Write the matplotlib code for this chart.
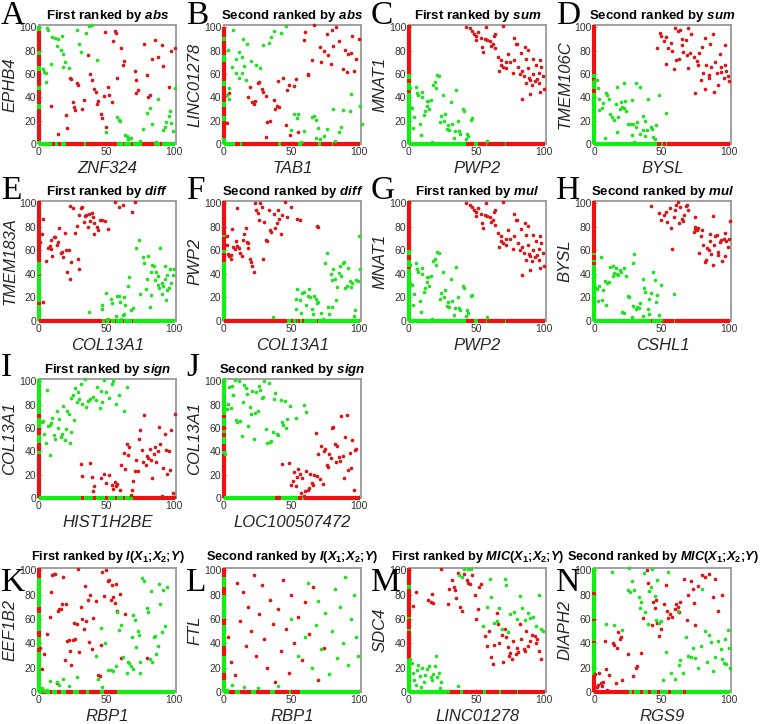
import matplotlib
matplotlib.use("Agg")
import matplotlib.pyplot as plt

plt.rcParams["font.family"] = ["Liberation Sans", "DejaVu Sans"]
plt.rcParams["mathtext.fontset"] = "custom"
plt.rcParams["mathtext.rm"] = "Liberation Sans:bold"
plt.rcParams["mathtext.it"] = "Liberation Sans:bold:italic"
plt.rcParams["mathtext.bf"] = "Liberation Sans:bold"

# ---- data: scatter points (x, y), and zero-value marks along the axes (lo, hi) ----
a_red = [(9,33),(14,9),(20,25),(21,14),(23,57),(24,56),(25,36),(26,32),(27,29),(28,52),(29,51),(33,38),(32,30),
         (36,76),(38,60),(39,55),(41,47),(42,45),(44,37),(43,34),(46,26),(47,22),(49,96),(48,41),(50,15),(51,49),
         (52,42),(54,36),(55,88),(56,97),(57,95),(58,57),(61,82),(62,68),(63,71),(71,63),(72,55),(72,44),(73,46),
         (78,86),(80,59),(81,40),(82,42),(84,73),(86,89),(88,75),(91,85),(92,67),(96,49),(98,80),(101,82)]
a_green = [(6,99),(7,98),(10,92),(12,91),(14,90),(17,93),(13,84),(16,81),(18,77),(9,69),(19,70),(18,66),(22,65),
           (28,98),(30,86),(31,79),(35,95),(37,101),(39,102),(43,72),(3,64),(4,62),(5,61),(5,53),(58,23),(59,21),
           (60,20),(50,10),(64,8),(65,7),(67,5),(68,5),(66,4),(75,3),(77,13),(80,27),(82,31),(84,17),(87,2),(88,39),
           (92,12),(93,15),(94,19),(96,24),(97,28),(99,11),(98,18),(101,48),(86,1)]
a_left_red = [(3,30),(34,46),(50,63),(67,76),(80,97)]
a_left_green = [(0,3),(30,34),(46,50),(63,67),(76,80),(97,101)]
a_bot_red = [(10,12),(14,16),(20,33),(35,58),(62,63),(68,70),(76,86),(90,91)]
a_bot_green = [(0,10),(12,14),(16,20),(33,35),(58,62),(63,68),(70,76),(86,90),(91,101)]

b_red = [(2,18),(4,44),(18,40),(19,49),(21,36),(22,34),(23,37),(25,52),(26,53),(28,47),(29,45),(31,41),(32,19),
         (31,6),(34,20),(37,38),(38,30),(39,33),(40,54),(41,32),(44,57),(46,16),(47,46),(48,51),(49,8),(52,50),
         (53,56),(55,10),(59,89),(60,96),(62,59),(62,60),(65,72),(67,102),(71,83),(72,70),(74,80),(76,94),(77,76),
         (79,69),(80,98),(81,84),(83,100),(85,88),(88,64),(90,81),(91,62),(92,77),(94,78),(95,93),(96,63),(98,73),
         (100,90)]
b_green = [(7,98),(3,81),(14,90),(17,86),(11,79),(13,75),(9,73),(15,67),(13,61),(9,61),(11,57),(16,55),(20,71),
           (24,68),(27,65),(29,85),(33,87),(35,92),(37,97),(42,95),(46,101),(6,66),(4,48),(4,39),(2,42),(50,12),
           (52,26),(54,22),(55,26),(57,2),(56,1),(59,11),(65,23),(67,24),(68,21),(68,5),(70,14),(71,4),(74,7),
           (76,13),(81,30),(82,3),(85,10),(87,15),(88,29),(93,28),(94,43),(101,33),(102,17)]
b_left_red = [(5,20),(24,32),(36,50),(54,70),(76,88),(92,100)]
b_left_green = [(0,5),(20,24),(32,36),(50,54),(70,76),(88,92)]
b_bot_red = [(8,12),(13,40),(42,55),(58,70),(72,80),(81,101)]
b_bot_green = [(0,8),(12,13),(40,42),(55,58),(70,72),(80,81)]

c_red = [(42,100),(45,99),(47,97),(48,94),(50,93),(50,89),(51,96),(53,91),(54,83),(55,79),(56,90),(57,100),
         (58,89),(60,88),(61,84),(62,86),(63,93),(64,94),(64,82),(66,75),(67,63),(68,72),(68,68),(70,66),(70,101),
         (72,70),(72,65),(73,77),(75,70),(77,61),(78,91),(78,72),(79,86),(80,86),(81,66),(82,60),(83,78),(84,63),
         (84,39),(85,58),(86,83),(87,73),(87,52),(88,81),(88,65),(89,57),(90,55),(90,43),(91,51),(92,73),(92,60),
         (93,54),(94,68),(95,56),(96,61),(97,72),(97,45),(98,66),(99,58),(100,47),(96,52)]
c_green = [(1,48),(1,32),(2,31),(3,14),(4,23),(5,49),(6,44),(7,42),(8,17),(9,8),(10,45),(10,40),(11,25),(12,28),
           (13,33),(13,37),(14,37),(15,30),(16,38),(17,2),(18,51),(19,53),(20,48),(21,59),(22,58),(23,19),(24,24),
           (25,42),(26,20),(27,26),(28,13),(29,16),(30,12),(31,36),(32,17),(33,5),(34,11),(35,46),(36,20),(37,11),
           (38,9),(40,30),(41,28),(42,4),(43,9),(44,7),(46,21),(47,22),(58,3)]
c_left_red = [(44,46),(52,56),(60,102)]
c_left_green = [(0,44),(46,52),(56,60)]
c_bot_red = [(42,48),(51,57),(58,71),(72,101)]
c_bot_green = [(0,42),(48,51),(57,58),(71,72)]

d_red = [(47,82),(49,95),(50,93),(52,88),(53,92),(53,69),(55,82),(57,87),(58,80),(59,64),(60,99),(61,72),(62,97),
         (63,73),(64,98),(65,85),(65,90),(66,79),(68,89),(69,76),(70,99),(70,65),(71,78),(72,94),(74,75),(75,44),
         (76,71),(77,68),(78,78),(79,55),(80,83),(81,61),(82,91),(82,47),(83,68),(85,59),(85,57),(86,86),(87,66),
         (88,94),(89,45),(90,70),(91,61),(92,51),(93,77),(94,66),(94,62),(96,57),(97,85),(97,68),(98,63),(99,58),
         (100,54)]
d_green = [(1,55),(2,55),(3,48),(4,39),(4,29),(6,31),(7,35),(8,5),(9,44),(10,42),(11,39),(12,26),(13,23),(15,21),
           (16,34),(17,49),(17,10),(18,23),(19,30),(20,36),(21,32),(22,52),(22,31),(23,37),(24,28),(25,17),(27,17),
           (28,38),(28,8),(29,17),(30,2),(31,52),(31,15),(32,19),(34,49),(34,9),(36,24),(36,12),(38,7),(38,20),
           (39,12),(40,39),(42,15),(43,13),(44,6),(45,4),(46,16),(48,42),(53,27)]
d_left_red = [(44,47),(54,57),(60,102)]
d_left_green = [(0,44),(47,54),(57,60)]
d_bot_red = [(47,50),(51,53),(54,101)]
d_bot_green = [(0,47),(50,51),(53,54)]

e_red = [(3,87),(2,74),(1,67),(3,16),(5,51),(7,62),(8,64),(9,69),(9,61),(10,55),(11,71),(12,71),(13,65),(14,67),
         (15,79),(16,58),(17,59),(18,54),(19,75),(20,60),(21,42),(22,60),(23,36),(23,98),(24,50),(25,96),(27,75),
         (28,81),(29,53),(30,44),(30,90),(31,96),(32,97),(33,84),(34,89),(35,90),(36,80),(37,91),(38,85),(39,92),
         (40,88),(41,83),(41,74),(43,80),(44,77),(45,86),(47,86),(49,85),(51,78),(56,101),(59,97),(62,99),(69,93),
         (71,101)]
e_green = [(37,8),(47,10),(47,14),(50,24),(51,2),(53,19),(54,15),(55,1),(57,4),(58,21),(59,21),(60,16),(61,2),
           (62,5),(63,6),(63,20),(64,14),(65,1),(66,30),(67,37),(68,9),(70,11),(72,62),(74,69),(75,23),(77,54),
           (78,49),(79,27),(80,36),(81,55),(82,12),(83,22),(84,48),(85,47),(86,35),(87,42),(88,31),(88,38),(89,28),
           (90,62),(91,32),(91,23),(92,30),(93,36),(93,47),(94,18),(95,26),(95,39),(96,28),(97,44),(98,32),(99,39),
           (100,44),(83,42)]
e_left_red = [(14,16),(38,39),(50,102)]
e_left_green = [(0,14),(16,38),(39,50)]
e_bot_red = [(0,47),(49,50),(52,53),(56,57),(62,63),(69,70)]
e_bot_green = [(47,49),(50,52),(53,56),(57,62),(63,69),(70,101)]

f_red = [(2,72),(2,65),(3,57),(4,55),(5,53),(5,56),(6,78),(7,63),(8,61),(9,68),(10,96),(10,64),(11,62),(12,58),
         (13,55),(14,69),(15,74),(16,79),(17,67),(18,62),(18,66),(19,53),(20,50),(21,47),(22,42),(23,100),(24,94),
         (25,92),(26,86),(27,100),(28,97),(29,53),(30,84),(31,69),(32,68),(33,94),(34,77),(35,76),(37,91),(38,79),
         (39,83),(40,94),(41,87),(42,74),(43,90),(45,101),(47,88),(50,97),(54,87),(56,86),(69,81),(70,80)]
f_green = [(36,3),(53,19),(53,10),(54,27),(56,18),(57,7),(58,24),(59,25),(61,14),(62,21),(63,27),(64,20),(65,10),
           (66,6),(67,21),(68,19),(69,15),(70,16),(72,7),(73,2),(74,1),(75,49),(76,58),(77,12),(78,6),(79,40),
           (80,35),(80,12),(81,44),(82,36),(83,18),(84,29),(85,41),(86,47),(87,38),(88,49),(89,50),(90,28),(91,30),
           (92,45),(93,34),(94,29),(95,32),(96,4),(97,9),(98,35),(99,34),(100,72),(101,44)]
f_left_red = [(50,58),(60,71),(73,102)]
f_left_green = [(0,50),(58,60),(71,73)]
f_bot_red = [(0,47),(50,51),(53,54),(55,56),(58,59),(69,70)]
f_bot_green = [(47,50),(51,53),(54,55),(56,58),(59,69),(70,101)]

# G repeats the MNAT1 / PWP2 pair of panel C
g_red = c_red
g_green = c_green
g_left_red = c_left_red
g_left_green = c_left_green
g_bot_red = c_bot_red
g_bot_green = c_bot_green

h_red = [(42,98),(48,92),(50,86),(52,90),(53,93),(54,84),(56,96),(57,79),(58,61),(59,88),(60,94),(61,99),(62,101),
         (63,83),(64,97),(65,87),(66,85),(67,90),(68,98),(69,99),(70,94),(74,76),(75,78),(75,80),(75,88),(77,79),
         (78,58),(79,72),(80,77),(81,65),(82,50),(83,52),(84,62),(85,60),(86,68),(86,74),(87,57),(88,89),(88,48),
         (89,65),(90,72),(91,73),(92,59),(92,56),(93,67),(94,69),(95,51),(96,70),(97,75),(97,55),(98,68),(99,63),
         (101,85),(100,70),(76,77)]
h_green = [(1,29),(2,27),(3,17),(4,30),(5,54),(6,18),(7,26),(8,34),(9,14),(10,32),(11,33),(12,46),(13,1),(14,47),
           (14,38),(15,41),(16,45),(17,40),(18,39),(19,43),(20,42),(21,8),(22,7),(22,45),(24,38),(25,21),(26,20),
           (28,3),(29,13),(29,49),(30,57),(31,10),(32,12),(33,11),(34,15),(36,4),(36,36),(37,28),(38,25),(40,10),
           (41,6),(41,19),(42,24),(44,42),(45,35),(46,16),(47,22),(48,5),(50,1),(50,31),(59,23)]
h_left_red = [(48,50),(52,56),(58,102)]
h_left_green = [(0,48),(50,52),(56,58)]
h_bot_red = [(42,43),(50,59),(60,101)]
h_bot_green = [(0,42),(43,50),(59,60)]

i_red = [(31,29),(32,19),(38,30),(39,18),(40,6),(41,10),(46,17),(48,21),(50,13),(52,20),(54,11),(55,8),(56,14),
         (57,10),(58,12),(60,7),(61,28),(63,39),(64,25),(65,46),(66,37),(67,44),(68,3),(69,7),(70,15),(71,23),
         (72,33),(73,23),(74,51),(75,58),(76,41),(77,31),(78,71),(79,28),(80,36),(81,34),(82,42),(83,33),(84,17),
         (85,38),(86,44),(87,31),(88,40),(89,61),(90,46),(91,2),(92,26),(93,55),(94,41),(95,21),(96,40),(97,24),
         (98,58),(99,4),(101,72),(100,1)]
i_green = [(2,65),(3,66),(4,55),(5,47),(6,93),(7,62),(8,37),(8,63),(9,64),(10,69),(11,54),(12,51),(13,75),(14,60),
           (15,68),(16,52),(17,55),(18,79),(19,50),(20,59),(21,75),(22,72),(23,47),(24,57),(24,86),(25,88),(26,67),
           (27,94),(28,82),(29,91),(30,85),(31,98),(32,81),(34,102),(35,78),(36,83),(38,85),(40,87),(42,84),(43,95),
           (45,77),(46,92),(47,82),(48,101),(50,91),(52,86),(54,98),(55,100),(57,81),(59,88),(63,75),(65,95)]
i_left_red = [(0,38),(40,47),(54,60),(69,72)]
i_left_green = [(38,40),(47,54),(60,69),(72,102)]
i_bot_red = [(31,33),(40,42),(49,51),(56,58),(62,64),(70,101)]
i_bot_green = [(0,31),(33,40),(42,49),(51,56),(58,62),(64,70)]

j_red = [(40,1),(43,29),(48,30),(50,11),(51,15),(52,22),(53,10),(54,18),(55,25),(56,21),(57,4),(58,17),(59,2),
         (60,6),(61,23),(62,7),(63,9),(64,21),(65,13),(66,11),(67,20),(68,56),(69,19),(70,38),(71,16),(72,45),
         (73,12),(74,40),(75,42),(76,28),(77,27),(78,38),(79,34),(80,60),(81,61),(82,46),(83,31),(84,45),(85,35),
         (86,32),(87,70),(88,36),(89,17),(90,52),(91,71),(92,24),(93,39),(94,26),(95,50),(96,7),(97,41),(98,42)]
j_green = [(1,38),(2,76),(3,81),(4,95),(5,77),(6,96),(7,88),(8,101),(9,67),(10,65),(11,100),(12,66),(13,53),
           (14,82),(15,97),(16,94),(17,89),(18,62),(19,78),(20,72),(21,92),(22,51),(23,73),(24,91),(25,75),(26,96),
           (27,93),(28,86),(29,87),(30,100),(31,59),(32,47),(33,99),(34,48),(35,49),(36,57),(37,85),(38,90),(39,55),
           (40,54),(42,84),(43,65),(44,63),(45,83),(46,60),(47,68),(49,79),(53,69),(59,80),(61,74)]
j_left_red = [(0,38),(40,46),(52,56),(58,62),(69,71)]
j_left_green = [(38,40),(46,52),(56,58),(62,69),(71,102)]
j_bot_red = [(38,42),(55,58),(59,101)]
j_bot_green = [(0,38),(42,55),(58,59)]

k_red = [(1,36),(2,19),(4,31),(6,48),(8,62),(9,82),(10,96),(11,97),(12,97),(13,7),(14,67),(15,68),(16,68),
         (17,72),(18,95),(19,26),(20,72),(21,42),(22,43),(23,34),(24,22),(25,43),(26,57),(27,44),(28,56),(29,101),
         (30,33),(31,70),(32,60),(33,52),(34,87),(35,58),(36,76),(37,41),(38,80),(39,35),(40,61),(42,75),(44,14),
         (45,13),(46,39),(47,99),(48,79),(50,100),(51,91),(52,92),(53,76),(54,88),(55,78),(56,73),(57,89),(58,67),
         (60,81),(61,28),(64,64),(80,28)]
k_green = [(2,3),(3,2),(4,1),(6,2),(8,9),(13,8),(15,6),(18,11),(22,5),(28,12),(42,30),(44,11),(46,53),(47,4),
           (49,40),(51,18),(53,18),(55,17),(57,21),(58,66),(59,51),(61,55),(62,29),(65,16),(66,25),(67,24),(68,21),
           (69,45),(70,63),(71,59),(72,37),(73,50),(74,47),(75,16),(76,94),(78,91),(80,69),(81,66),(82,27),(83,83),
           (84,25),(85,45),(86,46),(87,31),(88,38),(89,89),(90,72),(91,49),(92,84),(93,54),(95,86),(75,25),(70,19)]
k_left_red = [(33,36),(45,50),(65,70),(94,102)]
k_left_green = [(0,33),(36,45),(50,65),(70,94)]
k_bot_red = [(2,5),(8,10),(13,16),(20,25),(30,35),(37,45),(48,58)]
k_bot_green = [(0,2),(5,8),(10,13),(16,20),(25,30),(35,37),(45,48),(58,101)]

l_red = [(3,45),(5,25),(8,14),(10,90),(12,58),(14,82),(16,38),(18,70),(20,50),(22,96),(24,30),(26,64),(28,88),
         (30,44),(32,20),(34,76),(36,56),(38,8),(40,68),(42,34),(44,92),(46,52),(48,16),(50,80),(52,40),(55,62),
         (58,26),(60,74),(63,48),(66,86),(70,10),(74,36)]
l_green = [(2,2),(6,6),(15,4),(25,3),(40,5),(50,60),(55,30),(60,45),(62,90),(65,20),(68,55),(70,75),(72,35),
           (75,65),(78,15),(80,50),(82,85),(84,28),(86,70),(88,40),(90,95),(92,22),(94,60),(96,80),(98,45),(99,30)]
l_left_red = [(10,16),(30,38),(55,60),(80,86),(95,102)]
l_left_green = [(0,10),(16,30),(38,55),(60,80),(86,95)]
l_bot_red = [(4,8),(12,20),(24,34),(38,48),(50,56)]
l_bot_green = [(0,4),(8,12),(20,24),(34,38),(48,50),(56,101)]

m_red = [(3,71),(5,82),(14,76),(16,74),(17,81),(18,73),(24,101),(29,72),(30,85),(32,92),(33,86),(34,84),(35,77),
         (36,98),(38,70),(39,67),(41,97),(43,92),(44,90),(45,89),(47,96),(49,80),(50,60),(51,68),(52,86),(53,89),
         (56,46),(58,38),(59,50),(61,29),(62,23),(63,39),(65,65),(66,56),(67,40),(69,47),(70,25),(71,52),(72,45),
         (73,37),(74,30),(75,32),(76,27),(77,42),(79,31),(80,36),(81,33),(82,56),(83,44),(85,35),(86,34),(87,50),
         (88,38),(90,42),(91,47),(93,46),(94,40),(95,44),(98,27),(96,34)]
m_green = [(1,27),(2,24),(3,16),(4,10),(5,6),(6,18),(7,22),(8,13),(9,4),(10,20),(11,8),(12,14),(13,19),(15,21),
           (16,12),(17,10),(18,15),(19,21),(20,30),(21,12),(22,16),(23,3),(24,8),(26,1),(29,1),(36,5),(37,96),
           (39,95),(41,101),(44,101),(46,101),(55,54),(58,70),(60,93),(61,78),(63,57),(65,58),(67,69),(69,52),
           (71,93),(72,88),(73,49),(75,64),(78,66),(80,60),(82,79),(84,69),(86,59),(88,65),(90,61),(92,62),(94,54),
           (96,80),(98,52),(99,50)]
m_left_red = [(27,50),(52,60),(62,85),(88,102)]
m_left_green = [(0,27),(50,52),(60,62),(85,88)]
m_bot_red = [(28,38),(40,55),(57,67),(68,80),(81,101)]
m_bot_green = [(0,28),(38,40),(55,57),(67,68),(80,81)]

n_red = [(1,15),(2,4),(3,6),(4,16),(5,7),(6,5),(7,8),(8,42),(9,19),(10,2),(11,14),(14,40),(15,39),(16,7),(17,36),
         (18,49),(19,44),(20,45),(21,10),(25,31),(29,13),(31,20),(32,21),(35,32),(36,61),(39,100),(40,90),(43,55),
         (44,74),(45,69),(46,76),(47,57),(48,46),(50,52),(52,72),(53,88),(54,67),(55,61),(56,64),(58,62),(60,68),
         (61,72),(62,70),(63,66),(64,74),(67,93),(69,59),(70,80),(72,91),(73,85),(74,73),(75,55),(77,87),(80,96),
         (82,95),(85,97),(88,78),(90,93),(92,67),(95,80)]
n_green = [(9,56),(13,99),(15,55),(21,51),(25,84),(26,102),(27,82),(28,91),(30,84),(33,78),(34,69),(35,74),(37,98),
           (38,66),(40,56),(41,83),(42,86),(43,101),(45,79),(46,59),(47,92),(48,57),(50,58),(51,10),(53,33),(55,99),
           (57,16),(60,11),(62,67),(63,22),(64,26),(66,16),(68,45),(70,30),(72,29),(73,36),(75,28),(77,20),(79,38),
           (80,85),(82,50),(84,25),(85,47),(87,41),(88,17),(90,29),(92,42),(94,35),(95,27),(96,24),(97,44),(98,23),
           (99,51),(100,36),(101,20)]
n_left_red = [(0,14),(40,42),(58,60),(80,82)]
n_left_green = [(14,40),(42,58),(60,80),(82,102)]
n_bot_red = [(0,26),(28,30),(34,36),(40,42),(47,49),(55,57),(66,68)]
n_bot_green = [(26,28),(30,34),(36,40),(42,47),(49,55),(57,66),(68,101)]

titles = [r"First ranked by $abs$", r"Second ranked by $abs$", r"First ranked by $sum$", r"Second ranked by $sum$",
          r"First ranked by $diff$", r"Second ranked by $diff$", r"First ranked by $mul$", r"Second ranked by $mul$",
          r"First ranked by $sign$", r"Second ranked by $sign$",
          r"First ranked by $I(X_1;\!X_2;\!Y)$", r"Second ranked by $I(X_1;\!X_2;\!Y)$",
          r"First ranked by $MIC(X_1;\!X_2;\!Y)$", r"Second ranked by $MIC(X_1;\!X_2;\!Y)$"]
xlabels = ["ZNF324", "TAB1", "PWP2", "BYSL", "COL13A1", "COL13A1", "PWP2", "CSHL1",
           "HIST1H2BE", "LOC100507472", "RBP1", "RBP1", "LINC01278", "RGS9"]
ylabels = ["EPHB4", "LINC01278", "MNAT1", "TMEM106C", "TMEM183A", "PWP2", "MNAT1", "BYSL",
           "COL13A1", "COL13A1", "EEF1B2", "FTL", "SDC4", "DIAPH2"]
letters = list("ABCDEFGHIJKLMN")

reds = [a_red, b_red, c_red, d_red, e_red, f_red, g_red, h_red, i_red, j_red, k_red, l_red, m_red, n_red]
greens = [a_green, b_green, c_green, d_green, e_green, f_green, g_green, h_green, i_green, j_green,
          k_green, l_green, m_green, n_green]
left_reds = [a_left_red, b_left_red, c_left_red, d_left_red, e_left_red, f_left_red, g_left_red, h_left_red,
             i_left_red, j_left_red, k_left_red, l_left_red, m_left_red, n_left_red]
left_greens = [a_left_green, b_left_green, c_left_green, d_left_green, e_left_green, f_left_green, g_left_green,
               h_left_green, i_left_green, j_left_green, k_left_green, l_left_green, m_left_green, n_left_green]
bot_reds = [a_bot_red, b_bot_red, c_bot_red, d_bot_red, e_bot_red, f_bot_red, g_bot_red, h_bot_red,
            i_bot_red, j_bot_red, k_bot_red, l_bot_red, m_bot_red, n_bot_red]
bot_greens = [a_bot_green, b_bot_green, c_bot_green, d_bot_green, e_bot_green, f_bot_green, g_bot_green,
              h_bot_green, i_bot_green, j_bot_green, k_bot_green, l_bot_green, m_bot_green, n_bot_green]

RED = "#d81818"
GREEN = "#22e022"
EDGE_RED = "#ee1111"
EDGE_GREEN = "#11ee11"

W, H = 760, 724
col_left = [39, 224, 409, 594]
# (axes top, axes bottom, letter baseline) per row, in pixels
rows = [(25, 144, 24), (201, 321, 199), (379, 498, 376), (568, 692, 591)]
slots = [(0, 0), (0, 1), (0, 2), (0, 3), (1, 0), (1, 1), (1, 2), (1, 3), (2, 0), (2, 1),
         (3, 0), (3, 1), (3, 2), (3, 3)]


def draw_panel(fig, k):
    r, c = slots[k]
    top, bot, base = rows[r]
    x0 = col_left[c]
    ax = fig.add_axes([x0 / W, 1 - bot / H, 137 / W, (bot - top) / H])
    for seg in left_reds[k]:
        ax.plot([0, 0], seg, color=EDGE_RED, lw=3, solid_capstyle="butt", clip_on=False, zorder=3)
    for seg in left_greens[k]:
        ax.plot([0, 0], seg, color=EDGE_GREEN, lw=3, solid_capstyle="butt", clip_on=False, zorder=3)
    for seg in bot_reds[k]:
        ax.plot(seg, [0, 0], color=EDGE_RED, lw=3, solid_capstyle="butt", clip_on=False, zorder=3)
    for seg in bot_greens[k]:
        ax.plot(seg, [0, 0], color=EDGE_GREEN, lw=3, solid_capstyle="butt", clip_on=False, zorder=3)
    rx, ry = zip(*reds[k])
    gx, gy = zip(*greens[k])
    ax.scatter(rx, ry, s=7, color=RED, lw=0, clip_on=False, zorder=4)
    ax.scatter(gx, gy, s=7, color=GREEN, lw=0, clip_on=False, zorder=4)
    ax.set_xlim(0, 101.5)
    ax.set_ylim(0, 102)
    ax.set_xticks([0, 50, 100])
    ax.set_yticks([0, 20, 40, 60, 80, 100])
    ax.tick_params(direction="in", length=2.5, width=0.6, colors="#999999", labelcolor="#333333",
                   labelsize=7.5, pad=2)
    for sp in ax.spines.values():
        sp.set_color("#999999")
        sp.set_linewidth(1.3)
    ax.set_xlabel(xlabels[k], fontsize=12, style="italic", color="#262626", labelpad=3)
    ax.set_ylabel(ylabels[k], fontsize=12, style="italic", color="#262626", labelpad=1)
    if r < 3:
        ax.set_title(titles[k], fontsize=9.5, fontweight="bold", pad=4)
    else:
        ax.set_title(titles[k], fontsize=9.2, fontweight="bold", pad=6)
    fig.text((x0 - 38) / W, 1 - base / H, letters[k], family="Liberation Serif", fontsize=24,
             va="baseline", ha="left")


def main():
    fig = plt.figure(figsize=(7.6, 7.24), dpi=100)
    for k in range(len(letters)):
        draw_panel(fig, k)
    fig.savefig("out.png", dpi=100)


if __name__ == "__main__":
    main()
